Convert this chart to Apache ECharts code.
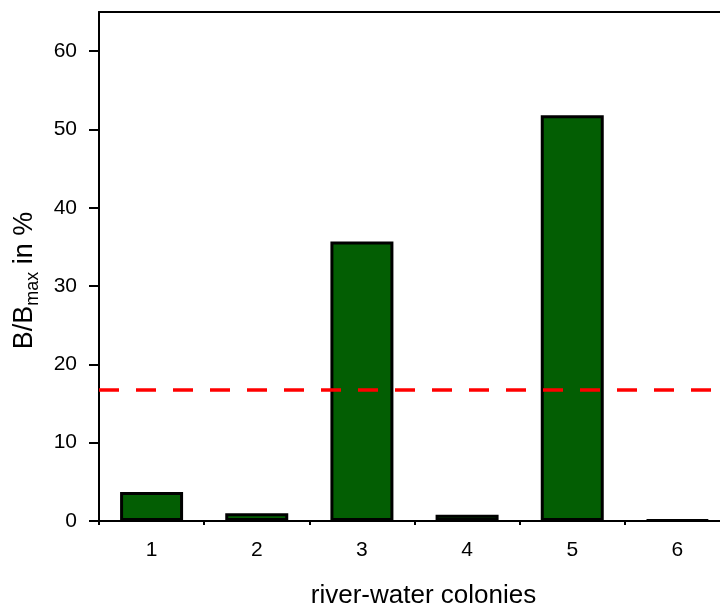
<!DOCTYPE html>
<html>
<head>
<meta charset="utf-8">
<script src="https://cdn.jsdelivr.net/npm/echarts@6/dist/echarts.min.js"></script>
<style>html,body{margin:0;padding:0;background:#fff}#c{width:720px;height:607px}</style>
</head>
<body>
<div id="c"></div>
<script>
var categories = ['1', '2', '3', '4', '5', '6'];
var values = [3.7, 1.0, 35.7, 0.8, 51.8, 0.15];
var meanLine = 16.8;
var yTicks = [0, 10, 20, 30, 40, 50, 60];
var xTitle = 'river-water colonies';

var chart = echarts.init(document.getElementById('c'), null, {renderer: 'canvas'});
var FONT = 'Liberation Sans';
chart.setOption({
  animation: false,
  backgroundColor: '#fff',
  grid: {left: 99, top: 12, bottom: 86, right: -10, containLabel: false, outerBoundsMode: 'none'},
  xAxis: [
    {
      type: 'category', data: categories, position: 'bottom',
      axisLine: {lineStyle: {color: '#000', width: 2}},
      axisTick: {alignWithLabel: true, length: 8, lineStyle: {color: '#000', width: 2}},
      axisLabel: {color: '#000', fontFamily: FONT, fontSize: 21, margin: 19},
      splitLine: {show: false},
      name: xTitle, nameLocation: 'middle', nameGap: 62,
      nameTextStyle: {color: '#000', fontFamily: FONT, fontSize: 26, padding: [0, 0, 0, 18]}
    },
    {
      type: 'category', data: categories, position: 'bottom',
      axisLine: {show: false},
      axisTick: {show: true, length: 4, lineStyle: {color: '#000', width: 2}},
      axisLabel: {show: false}, splitLine: {show: false}
    },
    {
      type: 'category', data: categories, position: 'top',
      axisLine: {show: true, lineStyle: {color: '#000', width: 2}},
      axisTick: {show: false}, axisLabel: {show: false}, splitLine: {show: false}
    }
  ],
  yAxis: {
    type: 'value', min: 0, max: 65, interval: 10,
    axisLine: {show: true, lineStyle: {color: '#000', width: 2}},
    axisTick: {show: true, length: 10, customValues: yTicks, lineStyle: {color: '#000', width: 2}},
    axisLabel: {color: '#000', fontFamily: FONT, fontSize: 21, margin: 22, customValues: yTicks},
    splitLine: {show: false},
    name: '{n|B/B}{s|max}{n| in %}', nameLocation: 'middle', nameGap: 57,
    nameTextStyle: {
      color: '#000', fontFamily: FONT, fontSize: 26, padding: [0, 28, 0, 0],
      rich: {
        n: {fontFamily: FONT, fontSize: 27, color: '#000', lineHeight: 34, verticalAlign: 'middle'},
        s: {fontFamily: FONT, fontSize: 18, color: '#000', lineHeight: 16, verticalAlign: 'bottom'}
      }
    }
  },
  series: [{
    type: 'bar', xAxisIndex: 0, data: values, barWidth: 63,
    itemStyle: {color: '#035E03', borderColor: '#000', borderWidth: 3},
    markLine: {
      silent: true, symbol: 'none', label: {show: false},
      lineStyle: {color: '#FF0000', width: 3.5, type: [20, 17]},
      data: [{yAxis: meanLine}]
    }
  }]
});
</script>
</body>
</html>
